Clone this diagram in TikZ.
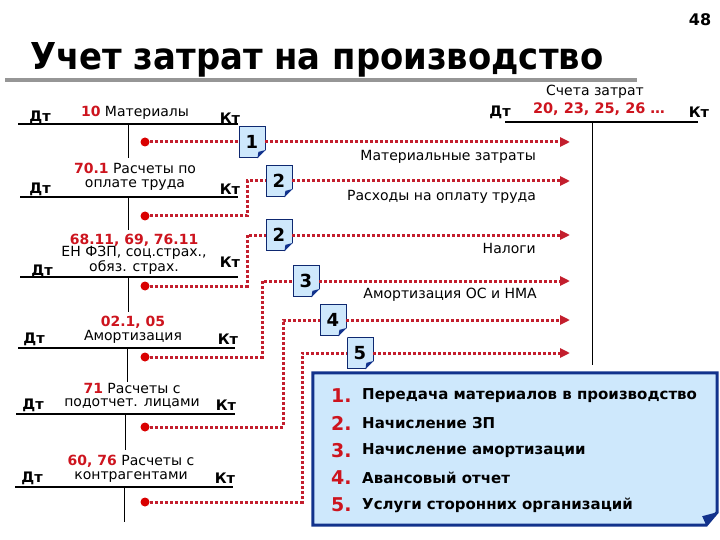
\documentclass[tikz,border=0pt]{standalone}
\usepackage{fontspec}
\setmainfont{DejaVu Sans}
\usepackage{graphicx}
\usetikzlibrary{arrows.meta,backgrounds,calc}
\definecolor{numred}{RGB}{205,20,30}
\definecolor{linered}{RGB}{195,30,45}
\definecolor{noteblue}{RGB}{206,232,252}
\definecolor{darkblue}{RGB}{18,50,140}
\definecolor{rulegray}{RGB}{150,150,150}
\newcommand\rn[1]{\textcolor{numred}{\bfseries #1}}
\begin{document}
\begin{tikzpicture}[x=1pt,y=-1pt,
  lbl/.style={font=\fontsize{14}{13.5}\selectfont, inner sep=0pt, align=center},
  dk/.style={font=\bfseries\fontsize{14.5}{14.5}\selectfont, inner sep=0pt},
  tl/.style={line width=1.2pt},
  vl/.style={line width=1pt},
  conn/.style={draw=linered, line width=3pt, dash pattern=on 3pt off 2pt},
  arr/.style={conn, -{Triangle[length=10pt,width=9pt]}},
  dotn/.style={circle, fill=red!85!black, inner sep=0pt, minimum size=9pt},
  note/.style={draw=darkblue!80!black, line width=0.8pt, fill=noteblue, minimum width=26pt, minimum height=31pt, inner sep=0pt, font=\bfseries\fontsize{18}{18}\selectfont},
  legitem/.style={anchor=west, inner sep=0pt, font=\bfseries\fontsize{15}{15}\selectfont},
  legnum/.style={anchor=west, inner sep=0pt, text=numred, font=\bfseries\fontsize{19}{19}\selectfont}
]
\useasboundingbox (0,0) rectangle (720,540);

% title
\node[font=\bfseries\fontsize{16}{16}\selectfont, inner sep=0pt] (page) at (700,20) {48};
\node[anchor=base west, inner sep=0pt] (title) at (30,70) {\resizebox{573pt}{27pt}{\bfseries Учет затрат на производство}};
\draw[rulegray, line width=4pt] (5,80) -- (637,80);

% account 1
\node[dk] (dt1) at (40,117) {Дт};
\node[dk] (kt1) at (230,118) {Кт};
\node[lbl] (a1) at (135,113) {\rn{10} Материалы};
\draw[tl] (18,124) -- (238,124);
\draw[vl] (128,124) -- (128,158);
\node[dotn] (d1) at (145,142) {};

% account 2
\node[dk] (dt2) at (40,189) {Дт};
\node[dk] (kt2) at (230,189) {Кт};
\node[lbl] (a2) at (135,177) {\rn{70.1} Расчеты по\\оплате труда};
\draw[tl] (20,197) -- (238,197);
\draw[vl] (128,197) -- (128,230);
\node[dotn] (d2) at (145,216) {};

% account 3
\node[dk] (dt3) at (42,271) {Дт};
\node[dk] (kt3) at (230,262) {Кт};
\node[lbl, font=\fontsize{14}{12.5}\selectfont] (a3) at (134,254) {\rn{68.11, 69, 76.11}\\ЕН ФЗП, соц.страх.,\\обяз. страх.};
\draw[tl] (20,277) -- (238,277);
\draw[vl] (128,277) -- (128,312);
\node[dotn] (d3) at (145,286) {};

% account 4
\node[dk] (dt4) at (34,339) {Дт};
\node[dk] (kt4) at (228,339) {Кт};
\node[lbl, font=\fontsize{14}{14.5}\selectfont] (a4) at (133,330) {\rn{02.1, 05}\\Амортизация};
\draw[tl] (18,348) -- (235,348);
\draw[vl] (127,348) -- (127,382);
\node[dotn] (d4) at (145,357) {};

% account 5
\node[dk] (dt5) at (33,405) {Дт};
\node[dk] (kt5) at (226,405) {Кт};
\node[lbl] (a5) at (132,396) {\rn{71} Расчеты с\\подотчет. лицами};
\draw[tl] (16,414) -- (235,414);
\draw[vl] (125,414) -- (125,450);
\node[dotn] (d5) at (145,427) {};

% account 6
\node[dk] (dt6) at (32,478) {Дт};
\node[dk] (kt6) at (225,478) {Кт};
\node[lbl] (a6) at (131,469) {\rn{60, 76} Расчеты с\\контрагентами};
\draw[tl] (15,487) -- (233,487);
\draw[vl] (124,487) -- (124,522);
\node[dotn] (d6) at (145,502) {};

% cost account
\node[lbl] (ca) at (595,92) {Счета затрат};
\node[dk] (dtc) at (500,112) {Дт};
\node[dk] (ktc) at (699,112) {Кт};
\node[inner sep=0pt, font=\bfseries\fontsize{14.5}{15}\selectfont, text=numred] (cnum) at (599,109) {20, 23, 25, 26 \ldots};
\draw[tl] (505,122) -- (698,122);
\draw[vl] (592,122) -- (592,365);

% note boxes
\node[note] (n1) at (252,142) {1};
\node[note] (n2a) at (279,181) {2};
\node[note] (n2b) at (279,235) {2};
\node[note] (n3) at (306,281) {3};
\node[note] (n4) at (333,320) {4};
\node[note] (n5) at (360,353) {5};
\foreach \n in {n1,n2a,n2b,n3,n4,n5}{
  \fill[white] ($(\n.south east)+(1.5,-9)$) -- ($(\n.south east)+(1.5,1.5)$) -- ($(\n.south east)+(-9,1.5)$) -- cycle;
  \fill[darkblue] ($(\n.south east)+(0.4,-8)$) -- ($(\n.south east)+(-8,0.4)$) -- ($(\n.south east)+(-7,-6)$) -- cycle;
}

% arrow end points and bends
\coordinate (e1) at (570,142);
\coordinate (e2a) at (570,181);
\coordinate (e2b) at (570,235);
\coordinate (e3) at (570,281);
\coordinate (e4) at (570,320);
\coordinate (e5) at (570,353);
\coordinate (b2a) at (247,181);
\coordinate (b2b) at (247,235);
\coordinate (b3) at (262,281);
\coordinate (b4) at (283,320);
\coordinate (b5) at (302,353);

\begin{scope}[on background layer]
  \draw[conn] (d1.center) -- (n1.west);
  \draw[conn] (d2.center) -| (b2a) -- (n2a.west);
  \draw[conn] (d3.center) -| (b2b) -- (n2b.west);
  \draw[conn] (d4.center) -| (b3) -- (n3.west);
  \draw[conn] (d5.center) -| (b4) -- (n4.west);
  \draw[conn] (d6.center) -| (b5) -- (n5.west);
\end{scope}
\draw[arr] (n1.east) -- (e1);
\draw[arr] (n2a.east) -- (e2a);
\draw[arr] (n2b.east) -- (e2b);
\draw[arr] (n3.east) -- (e3);
\draw[arr] (n4.east) -- (e4);
\draw[arr] (n5.east) -- (e5);

% arrow labels
\node[lbl, anchor=east] (l1) at (536,157) {Материальные затраты};
\node[lbl, anchor=east] (l2) at (536,197) {Расходы на оплату труда};
\node[lbl, anchor=east] (l3) at (536,248) {Налоги};
\node[lbl, anchor=east] (l4) at (537,295) {Амортизация ОС и НМА};

% legend
\node[inner sep=0pt, minimum width=404pt, minimum height=152pt] (leg) at (515,449) {};
\filldraw[fill=noteblue, draw=darkblue, line width=3pt, line join=miter]
  (leg.north west) -- (leg.north east) -- ($(leg.south east)+(0,-13)$) -- ($(leg.south east)+(-11,0)$) -- (leg.south west) -- cycle;
\fill[darkblue] ($(leg.south east)+(0,-13)$) -- ($(leg.south east)+(-11,0)$) -- ($(leg.south east)+(-15,-9)$) -- cycle;
\node[legnum] (ln1) at (331,396) {1.};
\node[legnum] (ln2) at (331,423) {2.};
\node[legnum] (ln3) at (331,451) {3.};
\node[legnum] (ln4) at (331,478) {4.};
\node[legnum] (ln5) at (331,505) {5.};
\node[legitem] (li1) at (362,396) {Передача материалов в производство};
\node[legitem] (li2) at (362,423) {Начисление ЗП};
\node[legitem] (li3) at (362,451) {Начисление амортизации};
\node[legitem] (li4) at (362,478) {Авансовый отчет};
\node[legitem] (li5) at (362,505) {Услуги сторонних организаций};
\end{tikzpicture}
\end{document}
